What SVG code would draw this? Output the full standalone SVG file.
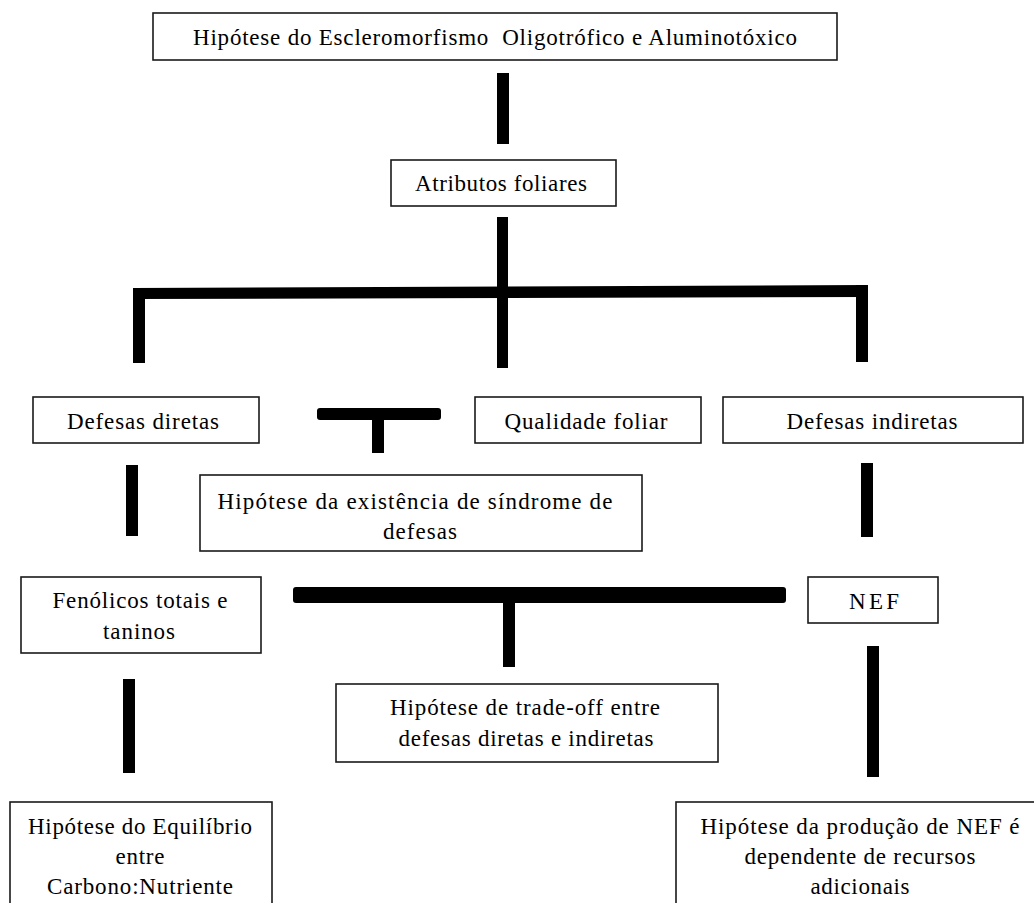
<svg xmlns="http://www.w3.org/2000/svg" width="1034" height="903" viewBox="0 0 1034 903">
<style>
.box{fill:#fff;stroke:#1a1a1a;stroke-width:1.6}
.t{font-family:'Liberation Serif','Times New Roman',serif;font-size:23px;fill:#000;text-anchor:middle}
.bar{fill:#000}
</style>
<rect width="1034" height="903" fill="#fff"/>
<g id="connectors">
<rect class="bar" x="497" y="73" width="12" height="71"/>
<rect class="bar" x="497" y="217" width="11" height="151"/>
<polygon class="bar" points="133,288 868,285 868,297 133,299"/>
<rect class="bar" x="133" y="288" width="12" height="75"/>
<rect class="bar" x="856" y="285" width="12" height="77"/>
<rect class="bar" x="317" y="408" width="124" height="12" rx="3"/>
<rect class="bar" x="372" y="416" width="12" height="37"/>
<rect class="bar" x="126" y="465" width="12" height="71"/>
<rect class="bar" x="861" y="463" width="12" height="74"/>
<rect class="bar" x="293" y="587" width="493" height="16" rx="3"/>
<rect class="bar" x="503" y="600" width="12" height="67"/>
<rect class="bar" x="123" y="679" width="12" height="94"/>
<rect class="bar" x="867" y="646" width="12" height="131"/>
</g>
<g id="n-top">
<rect class="box" x="153" y="13" width="684" height="47"/>
<text class="t" x="495" y="45" textLength="604" lengthAdjust="spacing" xml:space="preserve">Hipótese do Escleromorfismo  Oligotrófico e Aluminotóxico</text>
</g>
<g id="n-atributos">
<rect class="box" x="391" y="160" width="225" height="46"/>
<text class="t" x="501" y="191" textLength="172" lengthAdjust="spacing">Atributos foliares</text>
</g>
<g id="n-diretas">
<rect class="box" x="33" y="397" width="226" height="46"/>
<text class="t" x="143" y="429" textLength="152" lengthAdjust="spacing">Defesas diretas</text>
</g>
<g id="n-qualidade">
<rect class="box" x="475" y="397" width="226" height="46"/>
<text class="t" x="586" y="429" textLength="163" lengthAdjust="spacing">Qualidade foliar</text>
</g>
<g id="n-indiretas">
<rect class="box" x="723" y="397" width="300" height="46"/>
<text class="t" x="872" y="429" textLength="171" lengthAdjust="spacing">Defesas indiretas</text>
</g>
<g id="n-sindrome">
<rect class="box" x="200" y="475" width="442" height="76"/>
<text class="t" x="415" y="509" textLength="395" lengthAdjust="spacing">Hipótese da existência de síndrome de</text>
<text class="t" x="420" y="539" textLength="74" lengthAdjust="spacing">defesas</text>
</g>
<g id="n-fenolicos">
<rect class="box" x="21" y="577" width="240" height="76"/>
<text class="t" x="140" y="608" textLength="175" lengthAdjust="spacing">Fenólicos totais e</text>
<text class="t" x="139" y="639" textLength="72" lengthAdjust="spacing">taninos</text>
</g>
<g id="n-nef">
<rect class="box" x="808" y="577" width="130" height="46"/>
<text class="t" x="874" y="609" textLength="50" lengthAdjust="spacing">NEF</text>
</g>
<g id="n-tradeoff">
<rect class="box" x="336" y="684" width="382" height="78"/>
<text class="t" x="525" y="715" textLength="270" lengthAdjust="spacing">Hipótese de trade-off entre</text>
<text class="t" x="526" y="746" textLength="255" lengthAdjust="spacing">defesas diretas e indiretas</text>
</g>
<g id="n-equilibrio">
<rect class="box" x="10" y="802" width="262" height="130"/>
<text class="t" x="140" y="834" textLength="224" lengthAdjust="spacing">Hipótese do Equilíbrio</text>
<text class="t" x="140" y="864" textLength="49" lengthAdjust="spacing">entre</text>
<text class="t" x="140" y="894" textLength="186" lengthAdjust="spacing">Carbono:Nutriente</text>
</g>
<g id="n-producao">
<rect class="box" x="676" y="802" width="400" height="130"/>
<text class="t" x="860" y="834" textLength="319" lengthAdjust="spacing">Hipótese da produção de NEF é</text>
<text class="t" x="860" y="864" textLength="231" lengthAdjust="spacing">dependente de recursos</text>
<text class="t" x="860" y="894" textLength="99" lengthAdjust="spacing">adicionais</text>
</g>
</svg>
